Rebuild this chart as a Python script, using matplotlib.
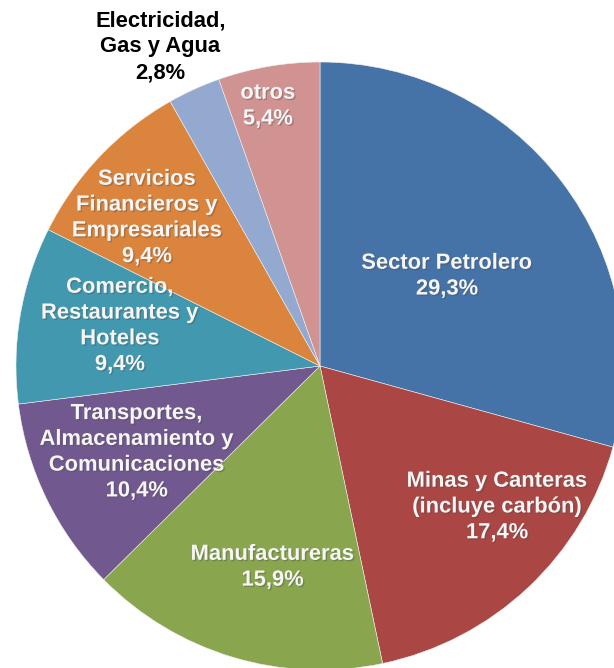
import numpy as np
import matplotlib.pyplot as plt
import matplotlib.patheffects as pe

plt.rcParams['font.family'] = ['Liberation Sans', 'DejaVu Sans']

sectores = ['Sector Petrolero', 'Minas y Canteras\n(incluye carbón)', 'Manufactureras',
            'Transportes,\nAlmacenamiento y\nComunicaciones', 'Comercio,\nRestaurantes y\nHoteles',
            'Servicios\nFinancieros y\nEmpresariales', 'Electricidad,\nGas y Agua', 'otros']
valores = [29.3, 17.4, 15.9, 10.4, 9.4, 9.4, 2.8, 5.4]
colores = ['#4572A7', '#AA4643', '#89A54E', '#71588F', '#4198AF', '#DB843D', '#93A9CF', '#D19392']

# label placement: (radial distance, angle tweak in degrees)
lab_r = [0.512, 0.745, 0.68, 0.666, 0.671, 0.749, 1.174, 0.872]
lab_dt = [-2.0, 8.3, 3.5, -0.7, -1.6, 3.0, 2.1, 1.6]
lab_col = ['#F6F6F6'] * 6 + ['black', '#F6F6F6']

W, H = 614, 668
cx, cy, R = 320, 366, 304

fig = plt.figure(figsize=(W / 100, H / 100), dpi=100)
ax = fig.add_axes([0, 0, 1, 1])
wedges, _ = ax.pie(valores, colors=colores, startangle=90, counterclock=False,
                   radius=1, wedgeprops=dict(linewidth=0.4, edgecolor='#f0f0f0'))
ax.set_xlim(-cx / R, (W - cx) / R)
ax.set_ylim(-(H - cy) / R, cy / R)
ax.set_aspect('auto')
ax.axis('off')

for w, nombre, v, r, dt, c in zip(wedges, sectores, valores, lab_r, lab_dt, lab_col):
    ang = np.deg2rad((w.theta1 + w.theta2) / 2 + dt)
    txt = nombre + '\n' + ('%.1f%%' % v).replace('.', ',')
    t = ax.text(r * np.cos(ang), r * np.sin(ang), txt, ha='center', va='center',
                color=c, fontsize=15.8, fontweight='bold', linespacing=1.3)
    if c != 'black':
        t.set_path_effects([pe.SimplePatchShadow(offset=(1, -1), alpha=0.35), pe.Normal()])

fig.savefig('out.png', dpi=100)
